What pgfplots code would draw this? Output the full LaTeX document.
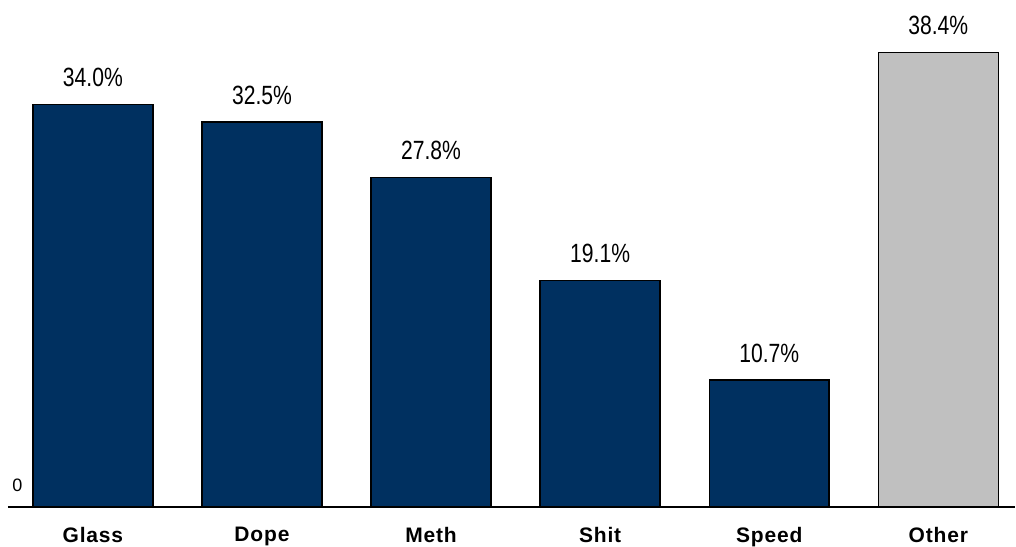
\documentclass[border=0pt]{standalone}
\usepackage{fontspec}
\setmainfont{Liberation Sans}
\newfontfamily\narrowfont[FakeStretch=0.8]{Liberation Sans}
\usepackage{pgfplots}
\pgfplotsset{compat=1.18}
\definecolor{navy}{RGB}{0,48,96}
\definecolor{lgray}{RGB}{192,192,192}
\begin{document}
\begin{tikzpicture}
\begin{axis}[
  scale only axis,
  width=504pt, height=253.5pt,
  xmin=-0.502, xmax=5.455,
  ymin=0, ymax=42.8,
  axis line style={draw=none},
  hide y axis,
  xtick={0,1,2,3,4,5},
  xticklabels={Glass,Dope,Meth,Shit,Speed,Other},
  major tick length=0pt,
  /pgf/number format/assume math mode=true,
  xticklabel style={font=\fontsize{10.5}{12}\selectfont\bfseries\addfontfeature{LetterSpace=4}, inner sep=0pt, anchor=north, yshift=-10pt},
  ybar, bar width=60pt,
  clip=false,
  nodes near coords={\pgfmathprintnumber[fixed,precision=1,fixed zerofill,assume math mode=true]{\pgfplotspointmeta}\%},
  every node near coord/.append style={font=\narrowfont\fontsize{13.2}{15}\selectfont, inner sep=0pt, anchor=south, yshift=8.5pt, black},
]
\addplot[bar shift=0pt, fill=navy, draw=black, line width=0.7pt] coordinates {(0,34.0) (1,32.5) (2,27.8) (3,19.1) (4,10.7)};
\addplot[bar shift=0pt, fill=lgray, draw=black, line width=0.7pt] coordinates {(5,38.4)};
\draw[black, line width=0.75pt] (axis cs:-0.502,0) -- (axis cs:5.455,0);
\node[anchor=south west, inner sep=0pt, font=\fontsize{9}{10}\selectfont, xshift=2pt, yshift=7.5pt] at (axis cs:-0.502,0) {0};
\end{axis}
\useasboundingbox ([xshift=-4pt,yshift=-20pt]current axis.south west) rectangle (current axis.north east);
\end{tikzpicture}
\end{document}
